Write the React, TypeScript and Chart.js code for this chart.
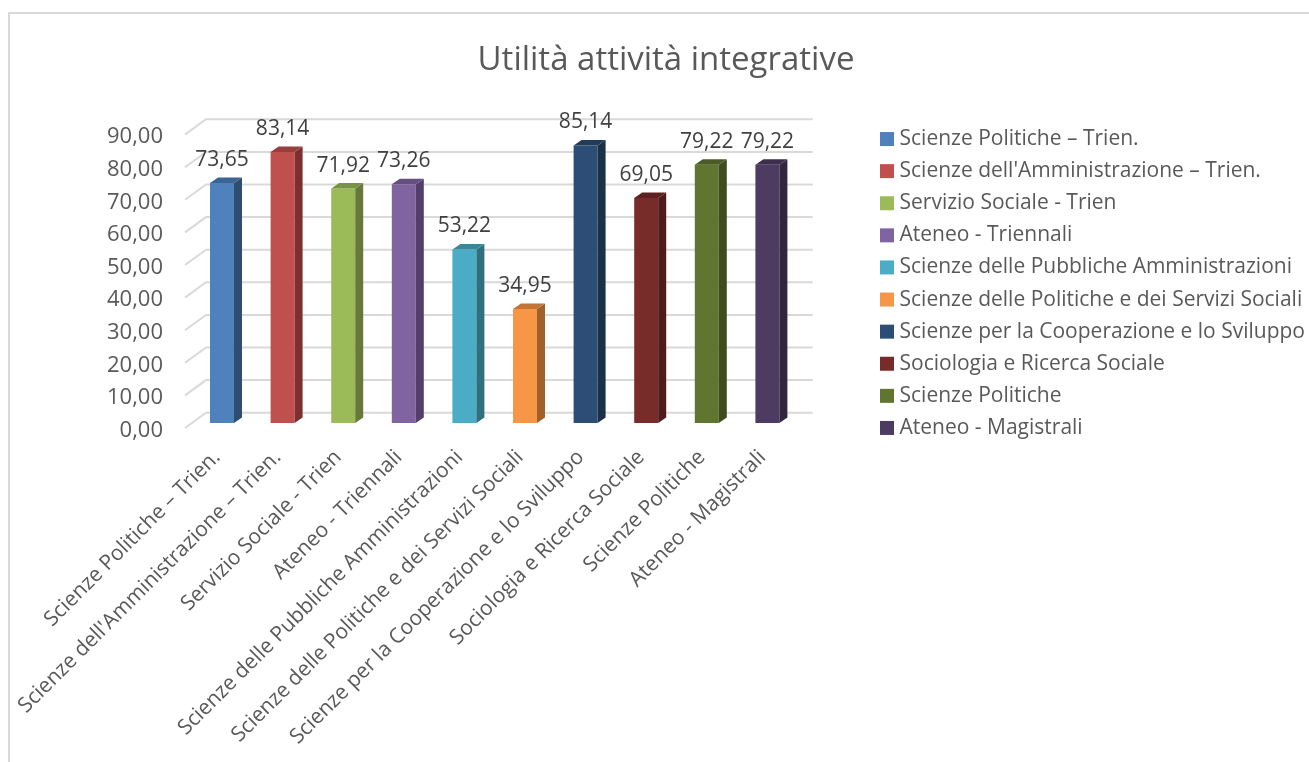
import React, { useEffect, useRef } from "react";
import { Chart, registerables } from "chart.js";

Chart.register(...registerables);

const categories = [
  "Scienze Politiche – Trien.",
  "Scienze dell'Amministrazione – Trien.",
  "Servizio Sociale - Trien",
  "Ateneo - Triennali",
  "Scienze delle Pubbliche Amministrazioni",
  "Scienze delle Politiche e dei Servizi Sociali",
  "Scienze per la Cooperazione e lo Sviluppo",
  "Sociologia e Ricerca Sociale",
  "Scienze Politiche",
  "Ateneo - Magistrali",
];
const values = [73.65, 83.14, 71.92, 73.26, 53.22, 34.95, 85.14, 69.05, 79.22, 79.22];
const frontColors = ["#4f81bd", "#c0504d", "#9bbb59", "#8064a2", "#4bacc6", "#f79646", "#2c4d75", "#772c2a", "#5f7530", "#4d3b62"];
const sideColors = ["#2f4d71", "#7d2f2d", "#66793a", "#52406a", "#2f6f80", "#a0602c", "#1c3047", "#4d1c1b", "#3e4c1f", "#32263f"];
const topColors = ["#3c6594", "#963f3c", "#799346", "#64507f", "#3a879c", "#c17536", "#213b59", "#5d2220", "#4a5b25", "#3c2e4c"];

const FONT = "'Open Sans', sans-serif";
const TEXT = "#595959";
const GRID = "#d9d9d9";
const fmt = (v: number) => v.toFixed(2).replace(".", ",");

const BAR_SHIFT_Y = -7.5;
const BAR_DX = 8;
const BAR_DY = -5.5;
const WALL_DX_LEFT = -6.7;
const WALL_DX = 14.3;
const WALL_Y0 = -2.5;
const WALL_DY = -15.3;

const box3d = {
  id: "box3d",
  afterLayout(chart: any) {
    // the axis keeps its long rotated labels from being cut at the shortened box
    chart.scales.x.bottom = chart.height;
  },
  beforeDatasetsDraw(chart: any) {
    const { ctx, chartArea, scales } = chart;
    const y = scales.y;
    const left = chartArea.left + WALL_DX_LEFT;
    const back = chartArea.left + WALL_DX;
    const right = chartArea.right + WALL_DX + 0.7;
    ctx.save();
    ctx.strokeStyle = GRID;
    ctx.lineWidth = 2;
    for (const t of y.ticks) {
      const py = y.getPixelForValue(t.value) + WALL_Y0;
      ctx.beginPath();
      ctx.moveTo(left, py);
      ctx.lineTo(back, py + WALL_DY);
      ctx.lineTo(right, py + WALL_DY);
      ctx.stroke();
    }
    ctx.restore();
    ctx.save();
    ctx.translate(0, BAR_SHIFT_Y);
  },
  afterDatasetsDraw(chart: any) {
    const { ctx } = chart;
    const base = chart.scales.y.getPixelForValue(0);
    chart.getDatasetMeta(0).data.forEach((bar: any, i: number) => {
      const xl = bar.x - bar.width / 2;
      const xr = bar.x + bar.width / 2;
      ctx.fillStyle = sideColors[i];
      ctx.beginPath();
      ctx.moveTo(xr, base);
      ctx.lineTo(xr + BAR_DX, base + BAR_DY);
      ctx.lineTo(xr + BAR_DX, bar.y + BAR_DY);
      ctx.lineTo(xr, bar.y);
      ctx.closePath();
      ctx.fill();
      ctx.fillStyle = topColors[i];
      ctx.beginPath();
      ctx.moveTo(xl, bar.y);
      ctx.lineTo(xl + BAR_DX, bar.y + BAR_DY);
      ctx.lineTo(xr + BAR_DX, bar.y + BAR_DY);
      ctx.lineTo(xr, bar.y);
      ctx.closePath();
      ctx.fill();
      ctx.fillStyle = "#404040";
      ctx.font = `21px ${FONT}`;
      ctx.textAlign = "center";
      ctx.textBaseline = "middle";
      ctx.fillText(fmt(values[i]), bar.x, bar.y - 23);
    });
    ctx.restore();
  },
};

export default function App() {
  const ref = useRef<HTMLCanvasElement>(null);
  useEffect(() => {
    const chart = new Chart(ref.current!, {
      type: "bar",
      plugins: [box3d],
      data: {
        labels: categories,
        datasets: [
          {
            label: "Utilità attività integrative",
            data: values,
            backgroundColor: frontColors,
            borderWidth: 0,
            categoryPercentage: 1,
            barPercentage: 0.396,
            clip: false,
          } as any,
        ],
      },
      options: {
        responsive: false,
        animation: false,
        layout: { padding: { left: 7, right: 0, top: 0, bottom: 209 } },
        plugins: {
          tooltip: { enabled: false },
          title: {
            display: true,
            text: "Utilità attività integrative",
            color: TEXT,
            font: { family: FONT, size: 33, weight: "normal" },
            padding: { top: 27, bottom: 56.5 },
          },
          legend: {
            display: true,
            position: "right",
            align: "center",
            maxWidth: 480,
            labels: {
              color: TEXT,
              font: { family: FONT, size: 21 },
              boxWidth: 4,
              boxHeight: 4,
              padding: 11.1,
              generateLabels: () =>
                categories.map((text, i) => ({
                  text,
                  fillStyle: frontColors[i],
                  strokeStyle: frontColors[i],
                  lineWidth: 10,
                  fontColor: TEXT,
                  datasetIndex: 0,
                  index: i,
                })),
            },
          },
        },
        scales: {
          x: {
            grid: { display: false },
            border: { display: false },
            afterFit: (s: any) => {
              s.height = 122.5;
            },
            ticks: {
              autoSkip: false,
              minRotation: 45,
              maxRotation: 45,
              color: TEXT,
              font: { family: FONT, size: 21 },
              padding: 6.5,
              labelOffset: -5,
            },
          },
          y: {
            min: 0,
            max: 90,
            grid: { display: false, drawTicks: false },
            border: { display: false },
            afterFit: (s: any) => {
              s.width = 174.7;
            },
            ticks: {
              stepSize: 10,
              color: TEXT,
              font: { family: FONT, size: 22 },
              padding: 28.7,
              callback: (v: any) => fmt(Number(v)),
            },
          },
          y2: {
            position: "right",
            grid: { display: false },
            border: { display: false },
            ticks: { display: false },
            afterFit: (s: any) => {
              const w = s.chart.legend?.width;
              s.width = s.chart.width - (w > 0 ? w : 460) - 787.7;
            },
          },
        },
      } as any,
    });
    return () => chart.destroy();
  }, []);
  return (
    <div
      style={{
        position: "fixed",
        left: 8,
        top: 12,
        width: 1299,
        height: 748,
        overflow: "hidden",
        background: "#fff",
        borderLeft: `2px solid ${GRID}`,
        borderTop: `2px solid ${GRID}`,
      }}
    >
      <canvas ref={ref} width={1305} height={748} style={{ display: "block" }} />
    </div>
  );
}
